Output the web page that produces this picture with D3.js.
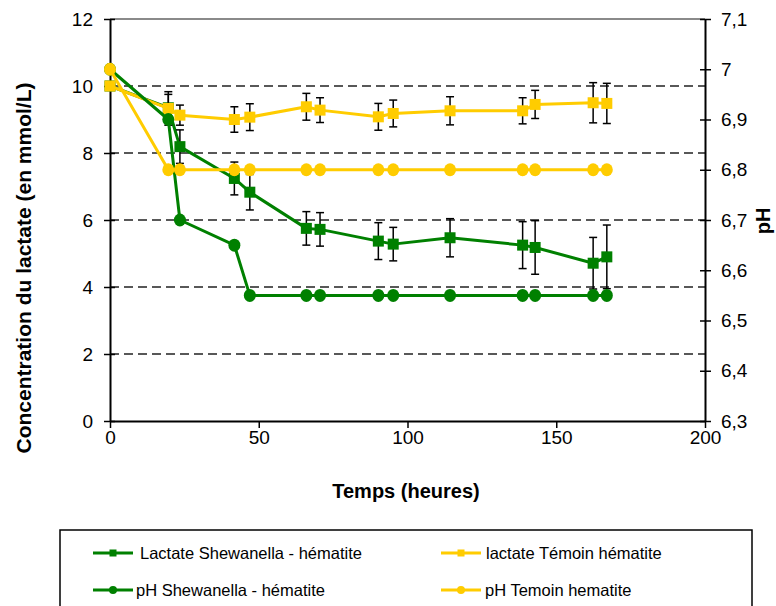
<!DOCTYPE html>
<html><head><meta charset="utf-8">
<script src="https://cdn.jsdelivr.net/npm/d3@7"></script>
<style>body{margin:0;background:#fff} text{font-family:"Liberation Sans",Arial,sans-serif}</style>
</head><body><svg id="c" width="776" height="606"></svg>
<script>
// ---- data ----
const hours = [0, 19.6, 23.5, 41.8, 47, 66, 70.6, 90.2, 95.2, 114.3, 138.7, 142.9, 162.4, 167];
const lactateShew = [10.0, 9.35, 8.19, 7.24, 6.83, 5.75, 5.72, 5.37, 5.28, 5.47, 5.25, 5.18, 4.71, 4.90];
const lactateShewErr = [0, 0.4, 0.5, 0.49, 0.53, 0.5, 0.5, 0.55, 0.5, 0.57, 0.7, 0.8, 0.77, 0.95];
const lactateTem = [10.0, 9.33, 9.13, 9.0, 9.07, 9.38, 9.28, 9.08, 9.18, 9.26, 9.26, 9.45, 9.5, 9.48];
const lactateTemErr = [0, 0.5, 0.3, 0.38, 0.4, 0.4, 0.37, 0.4, 0.4, 0.42, 0.39, 0.42, 0.6, 0.6];
const phShew = [7.0, 6.90, 6.70, 6.65, 6.55, 6.55, 6.55, 6.55, 6.55, 6.55, 6.55, 6.55, 6.55, 6.55];
const phTem = [7.0, 6.80, 6.80, 6.80, 6.80, 6.80, 6.80, 6.80, 6.80, 6.80, 6.80, 6.80, 6.80, 6.80];
const xTicks = [0, 50, 100, 150, 200];
const yLTicks = [0, 2, 4, 6, 8, 10, 12];
const yRTicks = [6.3, 6.4, 6.5, 6.6, 6.7, 6.8, 6.9, 7.0, 7.1];
const seriesNames = ["Lactate  Shewanella - hématite", "lactate Témoin hématite", "pH Shewanella - hématite", "pH Temoin hematite"];

const GREEN = "#008000", YELLOW = "#FFCC00";
const svg = d3.select("#c");
svg.append("rect").attr("width", 776).attr("height", 606).attr("fill", "#fff");

const x = d3.scaleLinear().domain([0, 200]).range([110, 705]);
const yL = d3.scaleLinear().domain([0, 12]).range([421, 19]);
const yR = d3.scaleLinear().domain([6.3, 7.1]).range([421, 19]);

// gridlines
svg.append("g").selectAll("line").data(yLTicks.filter(v => v > 0 && v < 12)).join("line")
  .attr("x1", 110).attr("x2", 705).attr("y1", d => yL(d)).attr("y2", d => yL(d))
  .attr("stroke", "#222").attr("stroke-width", 1.5).attr("stroke-dasharray", "9,5");
// top border
svg.append("line").attr("x1", 110).attr("x2", 705).attr("y1", yL(12)).attr("y2", yL(12))
  .attr("stroke", "#8a8a8a").attr("stroke-width", 2);

function styleAxis(g) {
  g.select(".domain").attr("stroke", "#000").attr("stroke-width", 2);
  g.selectAll(".tick line").attr("stroke", "#000").attr("stroke-width", 1.5);
  g.selectAll(".tick text").attr("font-size", 19).attr("fill", "#000")
    .attr("font-family", '"Liberation Sans",Arial,sans-serif');
}
const ax = svg.append("g").attr("transform", "translate(0,421)")
  .call(d3.axisBottom(x).tickValues(xTicks).tickSize(7).tickSizeOuter(0).tickPadding(3));
styleAxis(ax);
const ayl = svg.append("g").attr("transform", "translate(110,0)")
  .call(d3.axisLeft(yL).tickValues(yLTicks).tickSize(6).tickSizeOuter(0).tickPadding(11));
styleAxis(ayl); ayl.selectAll(".tick line").attr("x1", 5);
const ayr = svg.append("g").attr("transform", "translate(705,0)")
  .call(d3.axisRight(yR).tickValues(yRTicks).tickSize(6).tickSizeOuter(0).tickPadding(10)
    .tickFormat(d => (Math.round(d * 10) / 10).toString().replace(".", ",")));
styleAxis(ayr); ayr.selectAll(".tick line").attr("x1", -5);

// series
function drawSeries(vals, errs, yS, color, shape) {
  const g = svg.append("g");
  const line = d3.line().x((d, i) => x(hours[i])).y(d => yS(d));
  g.append("path").datum(vals).attr("d", line).attr("fill", "none")
    .attr("stroke", color).attr("stroke-width", 3).attr("stroke-linejoin", "round");
  if (errs) {
    const eb = g.append("g").attr("stroke", "#000").attr("stroke-width", 1.5);
    vals.forEach((v, i) => {
      if (!errs[i]) return;
      const cx = x(hours[i]), y1 = yS(v + errs[i]), y2 = yS(v - errs[i]);
      eb.append("line").attr("x1", cx).attr("x2", cx).attr("y1", y1).attr("y2", y2);
      eb.append("line").attr("x1", cx - 4).attr("x2", cx + 4).attr("y1", y1).attr("y2", y1);
      eb.append("line").attr("x1", cx - 4).attr("x2", cx + 4).attr("y1", y2).attr("y2", y2);
    });
  }
  if (shape === "square") {
    g.selectAll("rect").data(vals).join("rect")
      .attr("x", (d, i) => x(hours[i]) - 5.5).attr("y", d => yS(d) - 5.5)
      .attr("width", 11).attr("height", 11).attr("fill", color);
  } else {
    g.selectAll("ellipse").data(vals).join("ellipse")
      .attr("cx", (d, i) => x(hours[i])).attr("cy", d => yS(d))
      .attr("rx", 6).attr("ry", 6.5).attr("fill", color);
  }
}
drawSeries(lactateShew, lactateShewErr, yL, GREEN, "square");
drawSeries(lactateTem, lactateTemErr, yL, YELLOW, "square");
drawSeries(phShew, null, yR, GREEN, "circle");
drawSeries(phTem, null, yR, YELLOW, "circle");

// axis titles
svg.append("text").attr("x", 406).attr("y", 498).attr("text-anchor", "middle")
  .attr("font-size", 20).attr("font-weight", "bold").text("Temps (heures)");
svg.append("text").attr("transform", "translate(31,268) rotate(-90)").attr("text-anchor", "middle")
  .attr("font-size", 21).attr("font-weight", "bold").text("Concentration du lactate (en mmol/L)");
svg.append("text").attr("transform", "translate(770,221) rotate(-90)").attr("text-anchor", "middle")
  .attr("font-size", 20).attr("font-weight", "bold").text("pH");

// legend
svg.append("rect").attr("x", 60).attr("y", 530).attr("width", 692).attr("height", 100)
  .attr("fill", "#fff").attr("stroke", "#000").attr("stroke-width", 1.5);
const legItems = [
  {name: seriesNames[0], color: GREEN, shape: "square", lx: 93, tx: 140, y: 553},
  {name: seriesNames[1], color: YELLOW, shape: "square", lx: 441, tx: 486, y: 553},
  {name: seriesNames[2], color: GREEN, shape: "circle", lx: 93, tx: 136, y: 590},
  {name: seriesNames[3], color: YELLOW, shape: "circle", lx: 441, tx: 485, y: 590}
];
legItems.forEach(it => {
  svg.append("line").attr("x1", it.lx).attr("x2", it.lx + 40).attr("y1", it.y).attr("y2", it.y)
    .attr("stroke", it.color).attr("stroke-width", 3);
  if (it.shape === "square") svg.append("rect").attr("x", it.lx + 16.5).attr("y", it.y - 3.5)
    .attr("width", 7).attr("height", 7).attr("fill", it.color);
  else svg.append("circle").attr("cx", it.lx + 20).attr("cy", it.y).attr("r", 4).attr("fill", it.color);
  svg.append("text").attr("x", it.tx).attr("y", it.y + 6).attr("font-size", 16.5).text(it.name);
});
</script></body></html>
